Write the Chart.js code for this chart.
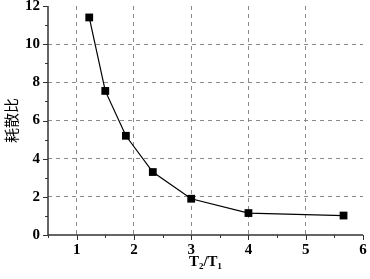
<!DOCTYPE html>
<html>
<head>
<meta charset="utf-8">
<script src="https://cdn.jsdelivr.net/npm/chart.js@4"></script>
<style>
  html, body { margin: 0; padding: 0; background: #fff; }
  #wrap { width: 370px; height: 279px; }
</style>
</head>
<body>
<div id="wrap"><canvas id="c" width="370" height="279"></canvas></div>
<script>
// data
const ratioT = [1.22, 1.5, 1.86, 2.33, 3, 4, 5.66];
const dissipation = [11.4, 7.55, 5.2, 3.3, 1.9, 1.15, 1.02];
const xTicks = [1, 2, 3, 4, 5, 6];
const yTicks = [0, 2, 4, 6, 8, 10, 12];

const serif = "'Liberation Serif', 'Times New Roman', serif";

// small outside tick marks + the two axis lines
const tickMarks = {
  id: 'tickMarks',
  afterDraw(chart) {
    const { ctx, chartArea: a, scales: { x, y } } = chart;
    ctx.save();
    ctx.strokeStyle = '#333';
    ctx.lineWidth = 1;
    ctx.beginPath();
    for (let v = 0.5; v <= 6.001; v += 0.5) {
      const px = Math.round(x.getPixelForValue(v)) + 0.5;
      const len = Number.isInteger(v) ? 5 : 3;
      ctx.moveTo(px, a.bottom);
      ctx.lineTo(px, a.bottom + len);
    }
    for (let v = 0; v <= 12; v += 1) {
      const py = Math.round(y.getPixelForValue(v)) + 0.5;
      const len = v % 2 === 0 ? 5 : 3;
      ctx.moveTo(a.left, py);
      ctx.lineTo(a.left - len, py);
    }
    ctx.stroke();
    ctx.lineWidth = 1.5;
    ctx.beginPath();
    ctx.moveTo(a.left, a.top);
    ctx.lineTo(a.left, a.bottom);
    ctx.lineTo(a.right, a.bottom);
    ctx.stroke();
    ctx.restore();
  }
};

new Chart(document.getElementById('c'), {
  type: 'line',
  data: {
    datasets: [{
      data: ratioT.map((t, i) => ({ x: t, y: dissipation[i] })),
      borderColor: '#000',
      borderWidth: 1.2,
      backgroundColor: '#000',
      pointStyle: 'rect',
      pointRadius: 5.5,
      pointBorderWidth: 0,
      tension: 0
    }]
  },
  options: {
    responsive: false,
    animation: false,
    layout: { padding: { top: 6, right: 7, left: 0, bottom: 0 } },
    plugins: { legend: { display: false }, tooltip: { enabled: false } },
    scales: {
      x: {
        type: 'linear',
        min: 0.5,
        max: 6,
        afterBuildTicks: s => { s.ticks = xTicks.map(v => ({ value: v })); },
        afterFit: s => { s.height = 44; s.paddingLeft = 0; s.paddingRight = 0; },
        border: { display: false, dash: [4, 4] },
        grid: {
          drawTicks: false,
          color: c => (c.tick && c.tick.value < 6) ? '#8a8a8a' : 'rgba(0,0,0,0)',
          lineWidth: 1
        },
        ticks: {
          color: '#000',
          padding: 6,
          maxRotation: 0,
          font: { family: serif, size: 15, weight: 'bold' }
        },
        title: {
          display: true,
          text: 'T₂/T₁',
          color: '#000',
          padding: { top: 0, bottom: 8 },
          font: { family: serif, size: 15, weight: 'bold' }
        }
      },
      y: {
        min: 0,
        max: 12,
        afterBuildTicks: s => { s.ticks = yTicks.map(v => ({ value: v })); },
        afterFit: s => { s.width = 48; s.paddingTop = 0; s.paddingBottom = 0; },
        border: { display: false, dash: [4, 4] },
        grid: {
          drawTicks: false,
          color: c => (c.tick && c.tick.value > 0 && c.tick.value < 12) ? '#8a8a8a' : 'rgba(0,0,0,0)',
          lineWidth: 1
        },
        ticks: {
          color: '#000',
          padding: 8,
          font: { family: serif, size: 15, weight: 'bold' }
        },
        title: {
          display: true,
          text: '耗散比',
          color: '#000',
          padding: { top: 2, bottom: 0 },
          font: { family: "'Noto Sans CJK SC', sans-serif", size: 15 }
        }
      }
    }
  },
  plugins: [tickMarks]
});
</script>
</body>
</html>
